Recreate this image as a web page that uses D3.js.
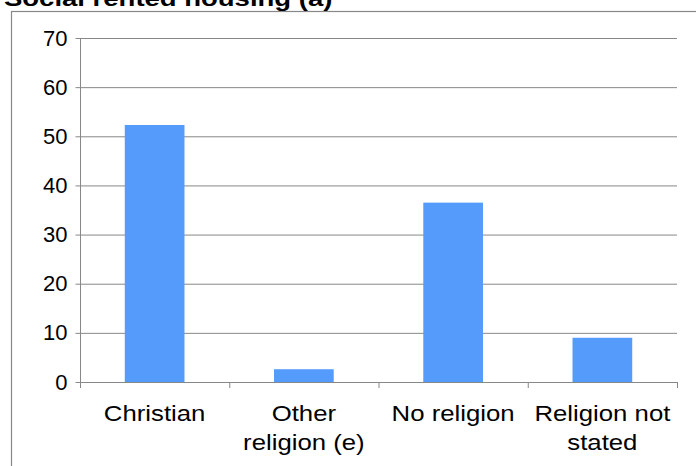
<!DOCTYPE html><html><head><meta charset="utf-8"><script src="https://cdn.jsdelivr.net/npm/d3@7"></script>
<style>body{margin:0;background:#fff}text{font-family:"Liberation Sans",Arial,sans-serif}</style></head><body>
<svg id="c" width="696" height="466"></svg>
<script>
const categories=[["Christian"],["Other","religion (e)"],["No religion"],["Religion not","stated"]];
const values=[52.3,2.6,36.5,9.0];
const yTicks=[0,10,20,30,40,50,60,70];
const svg=d3.select("#c");
svg.append("rect").attr("x",11.5).attr("y",11.5).attr("width",700).attr("height",470).attr("fill","none").attr("stroke","#888").attr("stroke-width",1.2);
svg.append("text").attr("transform","translate(4,6) scale(1.25,1)").attr("font-size",22).attr("font-weight","bold").text("Social rented housing (a)");
const x=d3.scaleBand().domain(d3.range(4)).range([80,677]).paddingInner(0.6).paddingOuter(0.3);
const y=d3.scaleLinear().domain([0,70]).range([382,38]);
const g=svg.append("g");
yTicks.forEach(t=>{ if(t>0) g.append("line").attr("x1",80).attr("x2",677).attr("y1",y(t)+.5).attr("y2",y(t)+.5).attr("stroke","#888");});
const ya=svg.append("g").attr("transform","translate(80.5,0)").call(d3.axisLeft(y).tickValues(yTicks).tickSize(5).tickPadding(8));
ya.select(".domain").attr("stroke","#888").attr("d","M0,38V382");
ya.selectAll(".tick line").attr("stroke","#888");
ya.selectAll("text").style("font-size","22px").attr("fill","#000").style("font-family","Liberation Sans,Arial");
svg.selectAll(".bar").data(values).join("rect").attr("x",(d,i)=>x(i)).attr("width",x.bandwidth()).attr("y",d=>y(d)).attr("height",d=>y(0)-y(d)).attr("fill","#559bfb");
svg.append("line").attr("x1",80).attr("x2",677).attr("y1",382.5).attr("y2",382.5).attr("stroke","#888");
const step=(677-80)/4;
for(let i=0;i<=4;i++) svg.append("line").attr("x1",80.5+i*step).attr("x2",80.5+i*step).attr("y1",382).attr("y2",388).attr("stroke","#888");
categories.forEach((c,i)=>{const cx=80+step*(i+0.5);c.forEach((l,j)=>svg.append("text").attr("transform",`translate(${cx},${421+j*29}) scale(1.12,1)`).attr("text-anchor","middle").style("font-size","23px").text(l));});
</script></body></html>
